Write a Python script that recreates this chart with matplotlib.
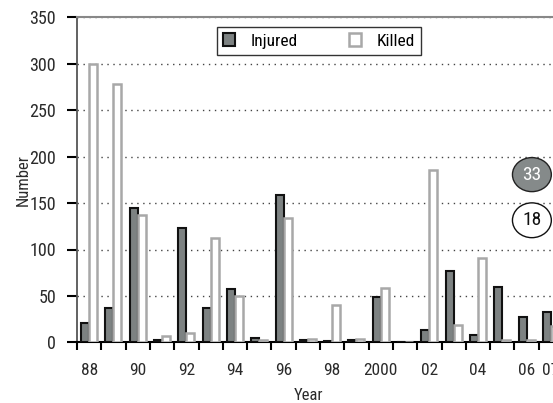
import matplotlib
matplotlib.use("Agg")
import matplotlib.pyplot as plt
from matplotlib import font_manager
from matplotlib.patches import Ellipse
import numpy as np

# pick a narrow sans if one is installed
installed = {f.name for f in font_manager.fontManager.ttflist}
family = "DejaVu Sans"
for name in ["Liberation Sans Narrow", "Roboto Condensed", "Open Sans Condensed",
             "Noto Sans Condensed", "DejaVu Sans Condensed", "Liberation Sans"]:
    if name in installed:
        family = name
        break
plt.rcParams["font.family"] = [family, "DejaVu Sans"]

# data 1988 - 2007
years = list(range(1988, 2008))
injured = [21, 37, 145, 2, 123, 37, 57, 5, 159, 2, 1, 3, 49, 0, 13, 77, 8, 60, 27, 33]
killed = [300, 278, 137, 7, 10, 112, 50, 2, 134, 4, 40, 4, 58, 0, 186, 19, 91, 3, 2, 18]
tick_years = [1988, 1990, 1992, 1994, 1996, 1998, 2000, 2002, 2004, 2006, 2007]
tick_text = ["88", "90", "92", "94", "96", "98", "2000", "02", "04", "06", "07"]

fig = plt.figure(figsize=(5.53, 4.03), dpi=100)
ax = fig.add_axes([77 / 553, 60.7 / 403, (563 - 77) / 553, 324.8 / 403])

x = np.arange(len(years))
w = 0.33
ax.bar(x - w / 2, injured, w, color="#7d8282", edgecolor="#111111", linewidth=1.5,
       label="Injured", zorder=3)
ax.bar(x + w / 2, killed, w, color="white", edgecolor="#a8a8a8", linewidth=1.8,
       label="Killed", zorder=3)

ax.set_xlim(-0.5, len(years) - 0.5)
ax.set_ylim(0, 350)
ax.set_yticks(range(0, 351, 50))
ax.yaxis.grid(True, linestyle=(0, (1, 3.3)), color="#444444", linewidth=1.0, zorder=1)

# tick marks on slot boundaries, labels at slot centres
ax.set_xticks(np.arange(len(years) + 1) - 0.5)
ax.set_xticklabels([])
ax.set_xticks([years.index(y) for y in tick_years], minor=True)
ax.set_xticklabels(tick_text, minor=True)
ax.tick_params(axis="x", which="major", direction="out", length=6, width=1.5, color="black")
ax.tick_params(axis="x", which="minor", length=0, pad=15, labelsize=12.5, labelcolor="#2a2a2a")
ax.tick_params(axis="y", direction="out", length=7, width=1.5, color="black",
               labelsize=13, labelcolor="#2a2a2a", pad=8)

ax.spines["right"].set_visible(False)
ax.spines["top"].set_color("#888888")
ax.spines["top"].set_linewidth(1.5)
ax.spines["left"].set_color("#555555")
ax.spines["left"].set_linewidth(1.3)
ax.spines["bottom"].set_color("black")
ax.spines["bottom"].set_linewidth(1.5)

ax.set_xlabel("Year", fontsize=12, color="#2a2a2a")
ax.xaxis.set_label_coords((308 - 77) / (563 - 77), -46 / 324.8)
ax.set_ylabel("Number", fontsize=12, color="#2a2a2a")
ax.yaxis.set_label_coords(-(77 - 31) / 486, 0.5)

leg = ax.legend(loc="center", bbox_to_anchor=(319 / 553, 1 - 41 / 403),
                bbox_transform=fig.transFigure, ncol=2, fontsize=12.5,
                frameon=True, fancybox=False, edgecolor="#333333", framealpha=1,
                handlelength=0.7, handleheight=0.7, handletextpad=0.9,
                columnspacing=2.9, borderpad=0.35, borderaxespad=0)
leg.get_frame().set_linewidth(1.0)

# latest-year value badges
ex = 18.22
e1 = Ellipse((ex, 180.7), 1.6, 36.7, facecolor="#858a8a", edgecolor="#222222",
             linewidth=1.0, clip_on=False, zorder=4)
e2 = Ellipse((ex, 131.5), 1.6, 37.5, facecolor="white", edgecolor="#111111",
             linewidth=1.0, clip_on=False, zorder=4)
ax.add_patch(e1)
ax.add_patch(e2)
ax.text(ex, 180.7, str(injured[-1]), ha="center", va="center", color="white",
        fontsize=14, zorder=5)
ax.text(ex, 131.5, str(killed[-1]), ha="center", va="center", color="#111111",
        fontsize=14, zorder=5)

fig.savefig("out.png", dpi=100)
